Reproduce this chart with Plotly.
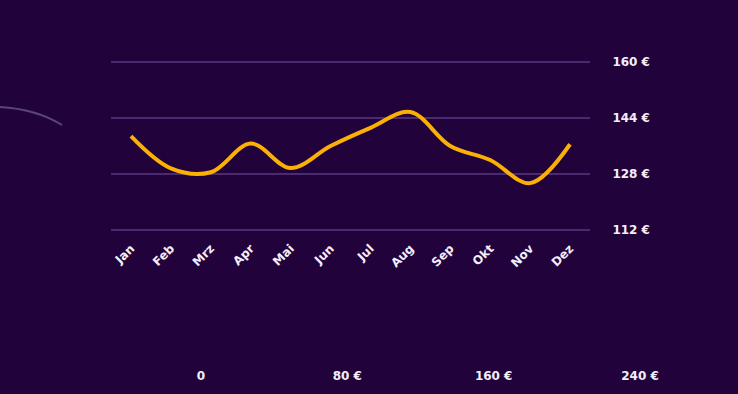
import plotly.graph_objects as go

months = ["Jan", "Feb", "Mrz", "Apr", "Mai", "Jun", "Jul", "Aug", "Sep", "Okt", "Nov", "Dez"]
prices = [138.8, 129.6, 128.5, 136.7, 129.7, 136.0, 141.2, 145.7, 136.0, 132.0, 125.4, 136.5]
y_ticks = [112, 128, 144, 160]
y_tick_labels = ["112 €", "128 €", "144 €", "160 €"]
bottom_ticks = [0, 80, 160, 240]
bottom_tick_labels = ["0", "80 €", "160 €", "240 €"]

BG = "#22023a"
GRID = "#4b2a6e"
LINE = "#fbb004"
TXT = "#f2eefa"
FONT = "DejaVu Sans"

W, H = 738, 394
mt, mb = 60, 5
ph = H - mt - mb

def py(px):  # pixel y (from top) -> paper fraction
    return (H - mb - px) / ph

tf = dict(family=FONT, size=12, color=TXT, weight=700)

fig = go.Figure()
fig.add_trace(go.Scatter(
    x=months, y=prices, mode="lines",
    line=dict(color=LINE, width=4, shape="spline", smoothing=1.0),
    hoverinfo="skip", showlegend=False,
))
fig.add_trace(go.Scatter(
    x=[bottom_ticks[0], bottom_ticks[-1]], y=[0, 0], xaxis="x2", yaxis="y2",
    mode="markers", marker=dict(opacity=0), hoverinfo="skip", showlegend=False,
))

fig.update_layout(
    template="none",
    width=W, height=H, autosize=False,
    margin=dict(l=0, r=0, t=mt, b=mb, pad=0),
    paper_bgcolor=BG, plot_bgcolor=BG,
    font=dict(family=FONT, color=TXT, size=12),
    showlegend=False,
    xaxis=dict(
        domain=[111 / W, 590 / W], range=[-0.5, len(months) - 0.5], automargin=False,
        showgrid=False, zeroline=False, showline=False,
        tickangle=-45, tickfont=tf,
        ticks="outside", ticklen=4, tickcolor=BG, fixedrange=True,
    ),
    yaxis=dict(
        domain=[py(231.8), py(60.2)], range=[111.5, 160.5], side="right", automargin=False,
        tickvals=y_ticks, ticktext=y_tick_labels,
        showgrid=True, gridcolor=GRID, gridwidth=1.5, zeroline=False, showline=False,
        ticks="outside", ticklen=19, tickcolor=BG,
        tickfont=tf,
    ),
    xaxis2=dict(
        domain=[201 / W, 640 / W], range=[0, 240], anchor="y2", automargin=False,
        tickvals=bottom_ticks, ticktext=bottom_tick_labels,
        showgrid=False, zeroline=False, showline=False,
        ticks="outside", ticklen=1, tickcolor=BG,
        tickfont=tf,
    ),
    yaxis2=dict(
        domain=[py(364), py(358)], visible=False, range=[-1, 1],
    ),
    shapes=[dict(
        type="path", xref="paper", yref="paper",
        path=f"M 0,{py(107)} Q {36/W},{py(109)} {62/W},{py(125)}",
        line=dict(color="#5b4579", width=2),
    )],
)

fig.write_html(
    "out.html",
    config={"displayModeBar": False},
    post_script="document.body.style.margin='0';document.body.style.background='#22023a';",
)
